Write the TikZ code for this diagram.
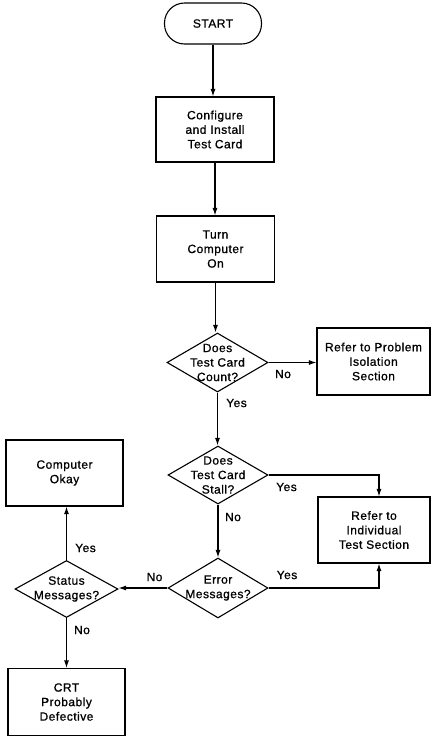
\documentclass[tikz,border=0pt]{standalone}
\usepackage{fontspec}
\setmainfont{Liberation Sans}[LetterSpace=4,FakeBold=0.8]
\usetikzlibrary{arrows.meta,shapes.geometric}
\begin{document}
\begin{tikzpicture}[x=1pt,y=-1pt,
  every node/.style={font=\fontsize{12}{14.5}\selectfont, align=center, inner sep=0pt},
  box/.style={draw, line width=1.1pt, rectangle},
  term/.style={draw, line width=1.1pt, rectangle, rounded corners=20pt, minimum width=97pt, minimum height=41pt},
  dia/.style={draw, line width=1.1pt, diamond},
  lbl/.style={},
  conn/.style={line width=1.1pt, -{Latex[length=7.5pt,width=5pt]}}
]
\useasboundingbox (0,0) rectangle (431,737);
% nodes
\node[term] (start) at (213,23.5) {START};
\node[box, minimum width=118pt, minimum height=65pt] (conf) at (215,129.5) {Configure\\and Install\\Test Card};
\node[box, minimum width=118pt, minimum height=66pt] (turn) at (215.5,249) {Turn\\Computer\\On};
\node[dia, minimum width=101pt, minimum height=59pt] (d1) at (217.5,362.5) {};
\node at (d1) {Does\\Test Card\\Count?};
\node[box, minimum width=113pt, minimum height=67pt] (prob) at (373.5,361.5) {Refer to Problem\\Isolation\\Section};
\node[dia, minimum width=100pt, minimum height=58pt] (d2) at (218,475) {};
\node at (d2) {Does\\Test Card\\Stall?};
\node[box, minimum width=112pt, minimum height=66pt] (indiv) at (374,530) {Refer to\\Individual\\Test Section};
\node[dia, minimum width=100pt, minimum height=60pt] (d3) at (218,588) {};
\node at (d3) {Error\\Messages?};
\node[dia, minimum width=103pt, minimum height=57pt] (d4) at (66.5,589) {};
\node at (d4) {Status\\Messages?};
\node[box, minimum width=117pt, minimum height=66pt] (okay) at (64.5,473) {Computer\\Okay};
\node[box, minimum width=117pt, minimum height=67pt] (crt) at (66.5,702) {CRT\\Probably\\Defective};
\coordinate (iv) at (379,0);
% labels
\node[lbl] (lno1) at (283,374) {No};
\node[lbl] (lyes1) at (236.5,403) {Yes};
\node[lbl] (lyes2) at (286.5,487) {Yes};
\node[lbl] (lno2) at (233,517) {No};
\node[lbl] (lyes3) at (287,575) {Yes};
\node[lbl] (lno3) at (154.5,577) {No};
\node[lbl] (lyes4) at (85.5,548) {Yes};
\node[lbl] (lno4) at (82,630) {No};
% connectors
\draw[conn] (start.south) -- (start.south |- conf.north);
\draw[conn] (conf.south) -- (conf.south |- turn.north);
\draw[conn] (turn.south) -- (turn.south |- d1.north);
\draw[conn] (d1.east) -- (d1.east -| prob.west);
\draw[conn] (d1.south) -- (d1.south |- d2.north);
\draw[conn] (d2.east) -| (iv |- indiv.north);
\draw[conn] (d2.south) -- (d2.south |- d3.north);
\draw[conn] (d3.east) -| (iv |- indiv.south);
\draw[conn] (d3.west) -- (d3.west -| d4.east);
\draw[conn] (d4.north) -- (d4.north |- okay.south);
\draw[conn] (d4.south) -- (d4.south |- crt.north);
\end{tikzpicture}
\end{document}
